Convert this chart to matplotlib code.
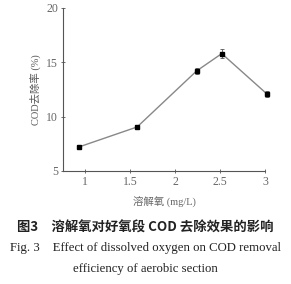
import matplotlib
matplotlib.use("Agg")
import matplotlib.pyplot as plt

plt.rcParams['font.family'] = ['Liberation Serif', 'Noto Sans CJK SC']

# 数据
do_vals = [0.93, 1.58, 2.24, 2.52, 3.02]
cod_removal = [7.2, 9.05, 14.2, 15.8, 12.1]
cod_err = [0.15, 0.2, 0.3, 0.4, 0.25]
x_ticks = [1, 1.5, 2, 2.5, 3]
x_ticklabels = ['1', '1.5', '2', '2.5', '3']
y_ticks = [5, 10, 15, 20]

fig = plt.figure(figsize=(2.91, 2.84), dpi=100)
ax = fig.add_axes([0.2165, 0.398, 0.694, 0.574])

lines = ax.errorbar(do_vals, cod_removal, yerr=cod_err, color='#888888', lw=1.0,
                    marker='s', ms=3.2, mfc='black', mec='black',
                    ecolor='#555555', elinewidth=0.6, capsize=1.5, capthick=0.6)
for art in lines.get_children():
    art.set_clip_on(False)

ax.set_xlim(0.756, 3.0)
ax.set_ylim(5, 20)
ax.set_xticks(x_ticks)
ax.set_xticklabels(x_ticklabels)
ax.set_yticks(y_ticks)
for s in ['top', 'right']:
    ax.spines[s].set_visible(False)
for s in ['left', 'bottom']:
    ax.spines[s].set_color('#555555')
    ax.spines[s].set_linewidth(0.8)
ax.tick_params(direction='inout', length=3, width=0.6, labelsize=8.5,
               colors='#555555', pad=2)
for lab in ax.get_xticklabels() + ax.get_yticklabels():
    lab.set_color('#666666')

ax.set_xlabel('溶解氧 (mg/L)', fontsize=7.5, color='#666666', labelpad=6)
ax.set_ylabel('COD去除率 (%)', fontsize=7.5, color='#555555', labelpad=4)

fig.text(0.5, 0.2, '图3　溶解氧对好氧段 COD 去除效果的影响', ha='center', va='center',
         fontsize=9.6, fontweight='bold', color='#222222',
         family=['Noto Sans CJK SC', 'Liberation Serif'])
fig.text(0.5, 0.127, 'Fig. 3    Effect of dissolved oxygen on COD removal',
         ha='center', va='center', fontsize=9.2, color='#222222')
fig.text(0.5, 0.053, 'efficiency of aerobic section', ha='center', va='center',
         fontsize=9.2, color='#222222')

fig.savefig('out.png', dpi=100)
